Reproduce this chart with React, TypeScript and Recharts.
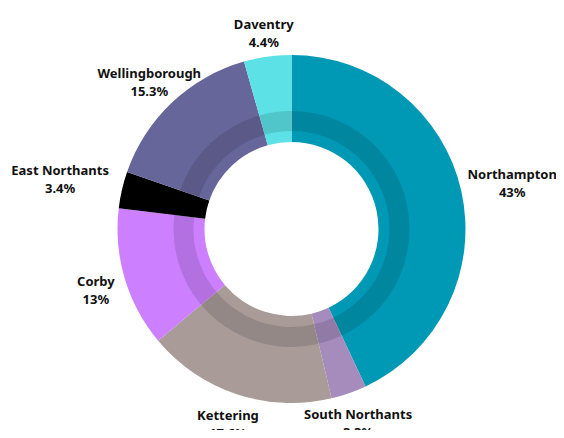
import { PieChart, Pie, Cell } from 'recharts'

const regions = ['Northampton', 'South Northants', 'Kettering', 'Corby', 'East Northants', 'Wellingborough', 'Daventry']
const shares = [43, 3.3, 17.6, 13, 3.4, 15.3, 4.4]
const colors = ['#0099b5', '#a68bbd', '#a89b98', '#cc80ff', '#000000', '#67669a', '#5ce1e6']

const data = regions.map((name, i) => ({ name, value: shares[i] }))

const RADIAN = Math.PI / 180

// place a two-line label box just outside the ring, touching it along the mid-angle
function renderLabel(props: any) {
  const { cx, cy, midAngle, name, value } = props
  const c = Math.cos(-midAngle * RADIAN)
  const s = Math.sin(-midAngle * RADIAN)
  const halfW = name.length * 3.65
  const halfH = 16
  const edge = Math.min(halfW / Math.max(Math.abs(c), 0.001), halfH / Math.max(Math.abs(s), 0.001))
  const r = 185 + edge
  const x = cx + r * c
  const y = cy + r * s + 3
  return (
    <text
      x={x}
      y={y}
      textAnchor="middle"
      fill="#111"
      fontFamily="'Noto Sans', sans-serif"
      fontWeight="bold"
      fontSize={13}
    >
      <tspan x={x} dy={-4}>{name}</tspan>
      <tspan x={x} dy={18}>{`${value}%`}</tspan>
    </text>
  )
}

export default function App() {
  return (
    <div style={{ margin: -8, width: 564, height: 438, background: '#fff' }}>
      <PieChart width={564} height={438} margin={{ top: 0, right: 0, bottom: 0, left: 0 }}>
        <Pie
          data={data}
          dataKey="value"
          nameKey="name"
          cx={291.5}
          cy={229}
          innerRadius={87}
          outerRadius={174}
          startAngle={90}
          endAngle={-270}
          stroke="none"
          label={renderLabel}
          labelLine={false}
          isAnimationActive={false}
        >
          {data.map((d, i) => (
            <Cell key={d.name} fill={colors[i]} />
          ))}
        </Pie>
        <Pie
          data={data}
          dataKey="value"
          cx={291.5}
          cy={229}
          innerRadius={98}
          outerRadius={118}
          startAngle={90}
          endAngle={-270}
          stroke="none"
          fill="#000"
          fillOpacity={0.12}
          isAnimationActive={false}
        />
      </PieChart>
    </div>
  )
}
